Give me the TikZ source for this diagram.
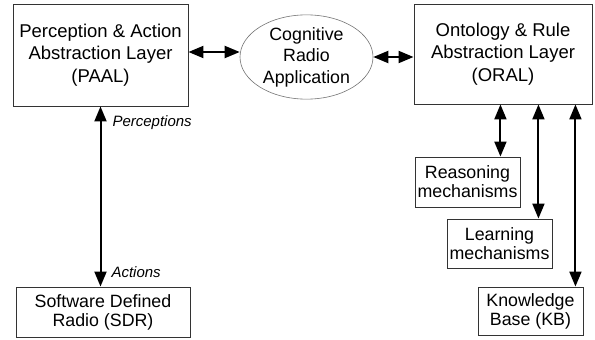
\documentclass[tikz,border=0pt]{standalone}
\usepackage{fontspec}
\setmainfont{Liberation Sans}
\usetikzlibrary{positioning,arrows.meta,calc,shapes.geometric}
\tikzset{
  arch/.style={x=1pt,y=-1pt,
    layer/.style={draw=black!80,line width=0.9pt,align=center,inner sep=2pt,
      font=\fontsize{18.5}{22.4}\selectfont},
    unit/.style={draw=black!80,line width=0.9pt,align=center,inner sep=2pt,
      font=\fontsize{17.8}{19}\selectfont},
    app/.style={ellipse,draw=black!55,line width=0.6pt,align=center,inner sep=0pt,
      font=\fontsize{17.8}{21.5}\selectfont},
    link/.style={{Triangle[length=15pt,width=12pt]}-{Triangle[length=15pt,width=12pt]},line width=2pt},
    tag/.style={font=\fontsize{15}{17}\selectfont\itshape,inner sep=0pt}},
}
\begin{document}
\begin{tikzpicture}[arch]
  \useasboundingbox (0,0) rectangle (595,340);
  \node[layer,minimum width=175pt,minimum height=102pt] (paal) at (100.5,55)
    {Perception \& Action\\Abstraction Layer\\(PAAL)};
  \node[app,minimum width=133pt,minimum height=84pt] (cra) at (306.5,57)
    {Cognitive\\Radio\\Application};
  \node[layer,minimum width=178pt,minimum height=100pt] (oral) at (503,54)
    {Ontology \& Rule\\Abstraction Layer\\(ORAL)};
  \node[unit,minimum width=174pt,minimum height=50pt] (sdr) at (103,312)
    {Software Defined\\Radio (SDR)};
  \node[unit,minimum width=105pt,minimum height=50pt] (reason) at (467.5,182)
    {Reasoning\\mechanisms};
  \node[unit,minimum width=105pt,minimum height=49pt] (learn) at (499.5,243.5)
    {Learning\\mechanisms};
  \node[unit,minimum width=105pt,minimum height=48pt] (kb) at (530.5,311)
    {Knowledge\\Base (KB)};

  \draw[link] ([yshift=3pt]paal.east) -- ([yshift=3pt]paal.east -| cra.west);
  \draw[link] (cra.east) -- (cra.east -| oral.west);
  \draw[link] (paal.south) -- (paal.south |- sdr.north)
    node[tag,pos=0.09,right=11pt] (per) {Perceptions}
    node[tag,pos=0.92,right=10pt] (act) {Actions};
  \draw[link] ([xshift=-20pt]reason.north east |- oral.south) -- ([xshift=-20pt]reason.north east);
  \draw[link] ([xshift=-14pt]learn.north east |- oral.south) -- ([xshift=-14pt]learn.north east);
  \draw[link] ([xshift=-8pt]kb.north east |- oral.south) -- ([xshift=-8pt]kb.north east);
\end{tikzpicture}
\end{document}
